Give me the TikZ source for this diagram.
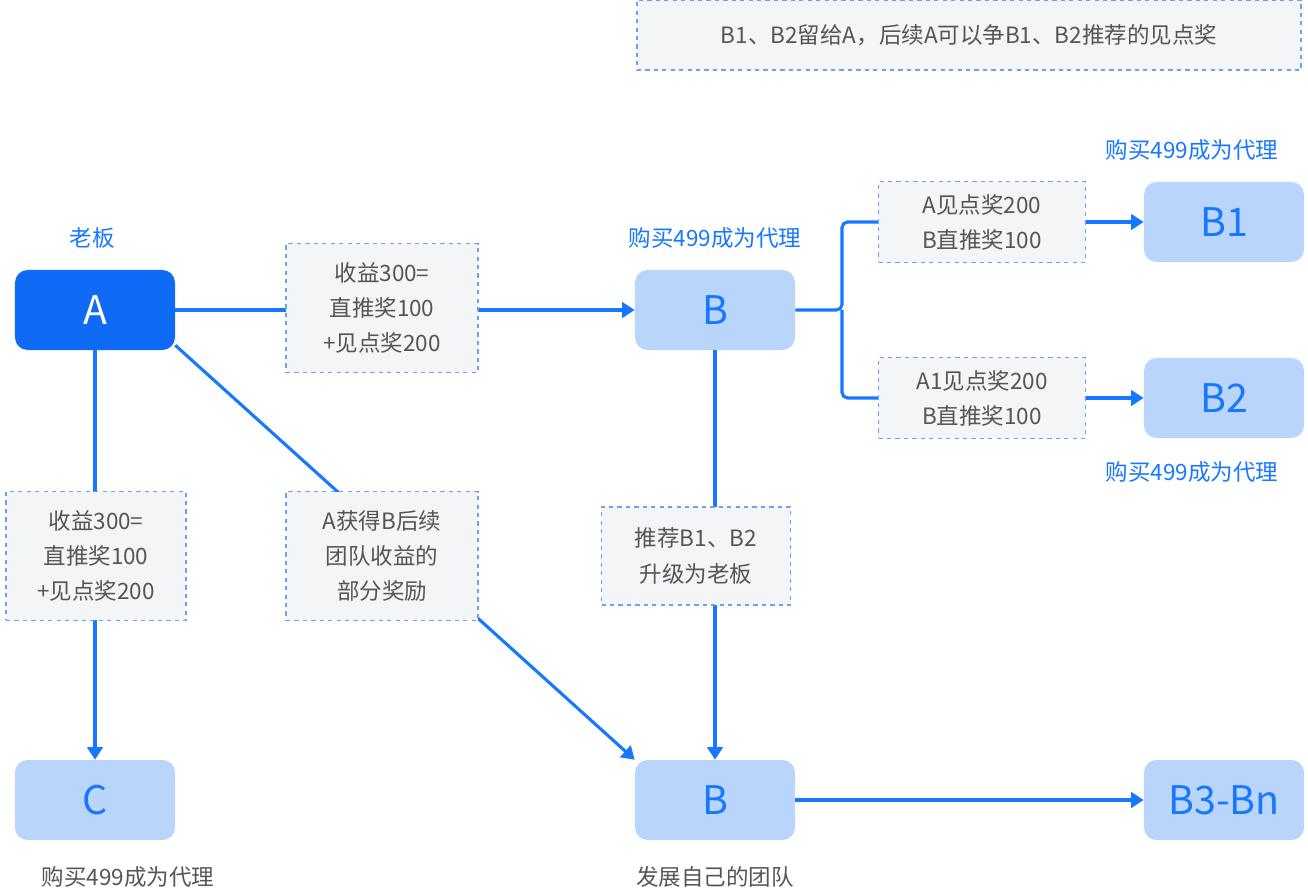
\documentclass[tikz,border=0pt]{standalone}
\usepackage{fontspec}
\setmainfont{Noto Sans CJK SC}
\usetikzlibrary{arrows.meta}
\definecolor{lineblue}{HTML}{1677FF}
\definecolor{darkbox}{HTML}{0F6BF5}
\definecolor{lightbox}{HTML}{BAD5FB}
\definecolor{notefill}{HTML}{F4F5F7}
\definecolor{notedash}{HTML}{6FA0F0}
\definecolor{greytext}{HTML}{555555}
\tikzset{
  agent/.style={rounded corners=9pt, minimum width=4cm, minimum height=2cm, font=\fontsize{28}{30}\selectfont},
  light/.style={agent, fill=lightbox, text=lineblue},
  note/.style={draw=notedash, dashed, line width=1pt, fill=notefill, text=greytext, align=center, inner sep=0pt, font=\fontsize{16}{25}\selectfont},
  tag/.style={font=\fontsize{16}{20}\selectfont},
  flow/.style={draw=lineblue, line width=2.2pt, -{Triangle[length=9pt,width=11pt]}},
  plain/.style={draw=lineblue, line width=2.2pt}
}
\begin{document}
\begin{tikzpicture}[x=0.025cm, y=-0.025cm]
\useasboundingbox (0,0) rectangle (1308,894);
% agents
\node[agent, fill=darkbox, text=white] (a) at (95,310) {A};
\node[light] (b)  at (715,310) {B};
\node[light] (b1) at (1224,222) {B1};
\node[light] (b2) at (1224,398) {B2};
\node[light] (c)  at (95,800) {C};
\node[light] (bb) at (715,800) {B};
\node[light] (bn) at (1224,800) {B3-Bn};
% tags
\node[tag, text=lineblue] (ta)  at (92,238) {老板};
\node[tag, text=lineblue] (tb)  at (715,238) {购买499成为代理};
\node[tag, text=lineblue] (tb1) at (1192,150) {购买499成为代理};
\node[tag, text=lineblue] (tb2) at (1192,472) {购买499成为代理};
\node[tag, text=greytext] (tc)  at (128,877) {购买499成为代理};
\node[tag, text=greytext] (tbb) at (715,877) {发展自己的团队};
% connectors
\coordinate (j) at (842,310);
\draw[flow] (a) -- (b);
\draw[flow] (a) -- (c);
\draw[flow] (a.south east) ++(0,-5) -- (bb.north west);
\draw[flow] (b) -- (bb);
\draw[flow] (bb) -- (bn);
\draw[plain, rounded corners=4pt] (b.east) -- (j) |- (879,222);
\draw[plain, rounded corners=4pt] (j) |- (879,398);
\draw[flow] (1086,222) -- (b1);
\draw[flow] (1086,398) -- (b2);
% notes
\node[note, minimum width=16.6cm, minimum height=1.75cm] (top) at (969,35) {B1、B2留给A，后续A可以争B1、B2推荐的见点奖};
\node[note, minimum width=4.8cm, minimum height=3.22cm] (n1) at (382,308) {收益300=\\直推奖100\\+见点奖200};
\node[note, minimum width=4.5cm, minimum height=3.22cm] (n2) at (96,556) {收益300=\\直推奖100\\+见点奖200};
\node[note, minimum width=4.8cm, minimum height=3.22cm] (n3) at (382,556) {A获得B后续\\团队收益的\\部分奖励};
\node[note, minimum width=4.72cm, minimum height=2.45cm] (n4) at (696,556) {推荐B1、B2\\升级为老板};
\node[note, minimum width=5.17cm, minimum height=2.02cm] (n5) at (982,222) {A见点奖200\\B直推奖100};
\node[note, minimum width=5.17cm, minimum height=2.02cm] (n6) at (982,398) {A1见点奖200\\B直推奖100};
\end{tikzpicture}
\end{document}
